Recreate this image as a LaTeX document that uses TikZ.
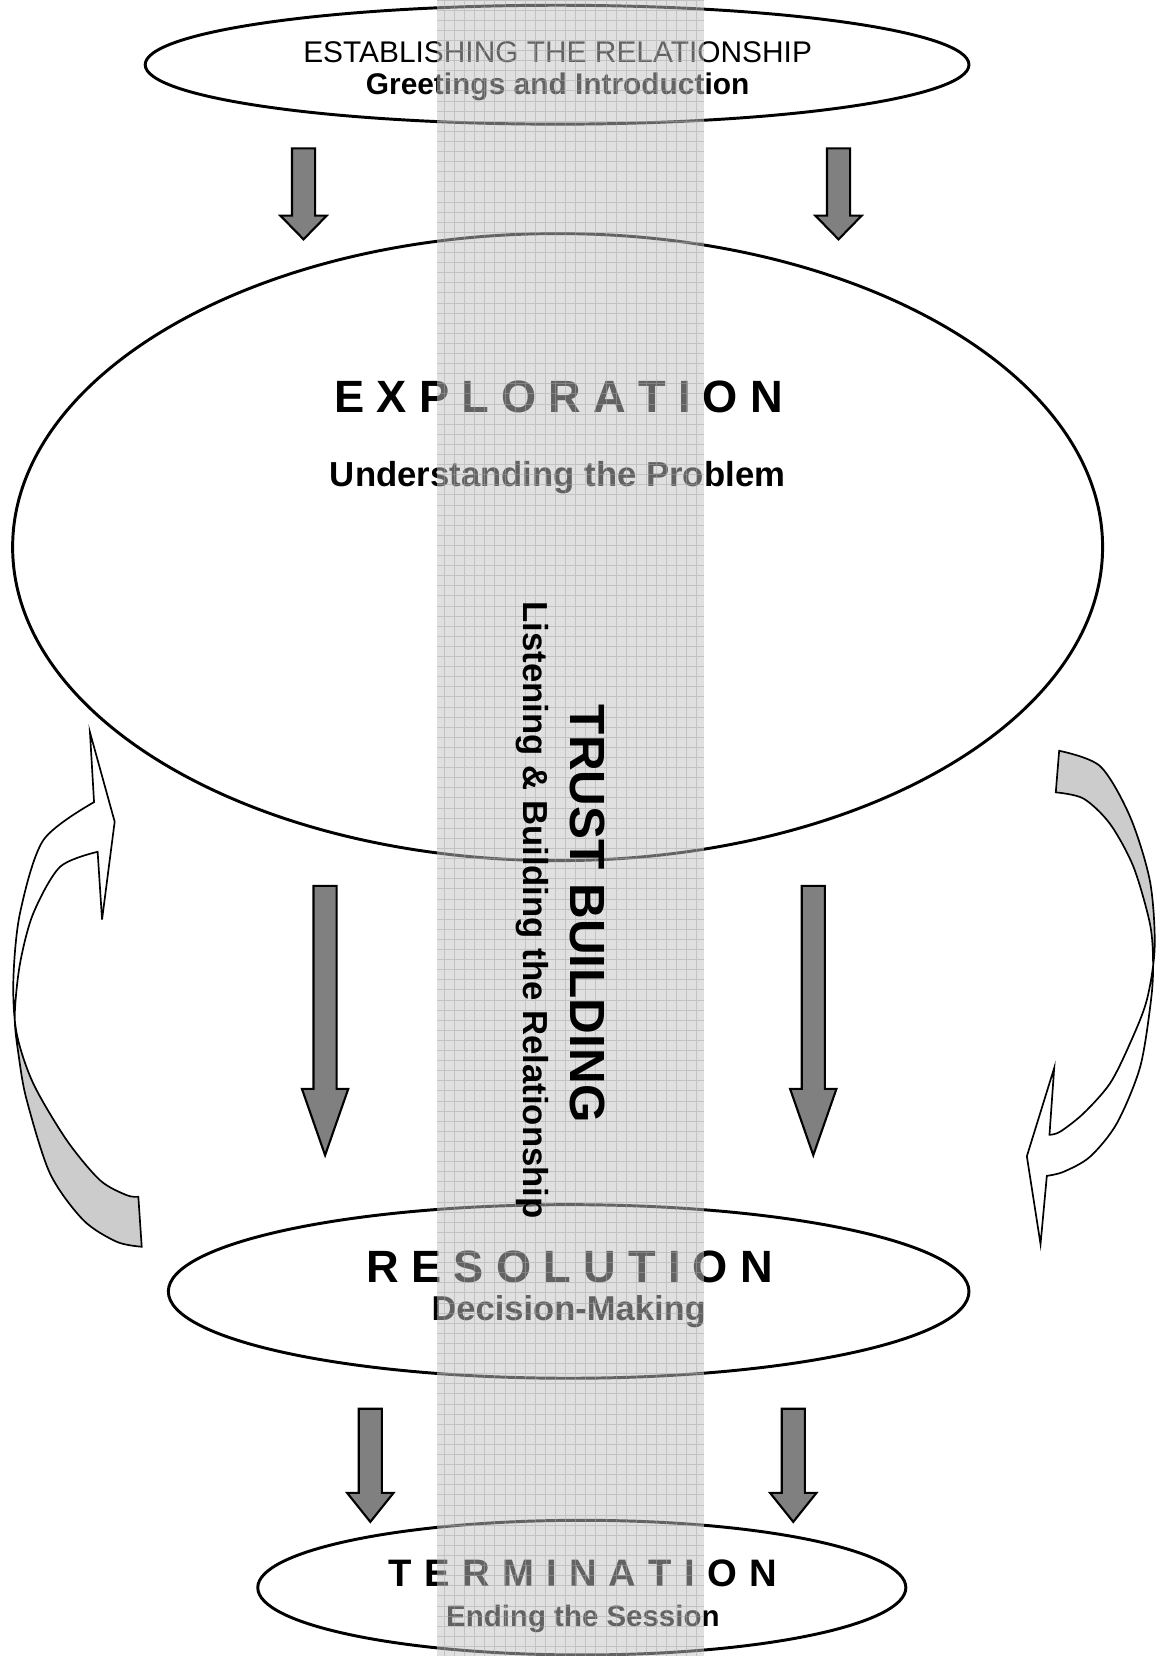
\documentclass[tikz,border=0pt]{standalone}
\usepackage{fontspec}
\setmainfont{Liberation Sans}
\usetikzlibrary{shapes.geometric}
\definecolor{bandgray}{RGB}{194,194,194}
\definecolor{bandline}{RGB}{165,165,165}
\definecolor{backface}{RGB}{204,204,204}
\newcommand{\fs}[1]{\fontsize{#1}{#1}\selectfont}
\newcommand{\lsp}{\hspace{5.8pt}}
\newcommand{\blockarrow}[4]{%
  \draw[blockarrow] (#1-11,#2) -- (#1+11,#2) -- (#1+11,#3) -- (#1+22,#3) -- (#1,#4)
    -- (#1-22,#3) -- (#1-11,#3) -- cycle;}
\tikzset{stage/.style={draw, ellipse, line width=1.4pt, inner sep=0pt},
  caption/.style={anchor=base, inner sep=0pt},
  blockarrow/.style={draw, fill=gray, line width=1pt, line join=miter},
  curvedarrow/.style={draw, line width=0.8pt, line join=miter},
  band/.style={fill=bandgray, fill opacity=0.51},
  bandgrid/.style={draw=bandline, draw opacity=0.5, line width=0.4pt, step=4.8pt},
  upright/.style={rotate=-90, anchor=base, inner sep=0pt}}

\begin{document}
\begin{tikzpicture}[x=0.5pt, y=-0.5pt]
  \useasboundingbox (0,0) rectangle (1100,1574);

  % stages
  \node[stage, minimum width=391.5pt, minimum height=56.5pt] (establish) at (529.5,61.5) {};
  \node[stage, minimum width=518pt, minimum height=298pt] (explore) at (530,520) {};
  \node[stage, minimum width=380.5pt, minimum height=82.5pt] (resolve) at (540.5,1227.5) {};
  \node[stage, minimum width=308pt, minimum height=64pt] (finish) at (553,1509) {};

  \node[caption, font=\fs{14.2pt}] (establishtitle) at (530,59.5) {ESTABLISHING THE RELATIONSHIP};
  \node[caption, font=\bfseries\fs{14.2pt}] (establishsub) at (530,90) {Greetings and Introduction};
  \node[caption, font=\bfseries\fs{21.5pt}] (exploretitle) at (531,392)
    {E\lsp X\lsp P\lsp L\lsp O\lsp R\lsp A\lsp T\lsp I\lsp O\lsp N};
  \node[caption, font=\bfseries\fs{16.5pt}] (exploresub) at (530,462) {Understanding the Problem};
  \node[caption, font=\bfseries\fs{21.5pt}] (resolvetitle) at (541.5,1219)
    {R\lsp E\lsp S\lsp O\lsp L\lsp U\lsp T\lsp I\lsp O\lsp N};
  \node[caption, font=\bfseries\fs{16.4pt}] (resolvesub) at (540.5,1255) {Decision-Making};
  \node[caption, font=\bfseries\fs{18.2pt}] (finishtitle) at (554,1508)
    {T\lsp E\lsp R\lsp M\lsp I\lsp N\lsp A\lsp T\lsp I\lsp O\lsp N};
  \node[caption, font=\bfseries\fs{14pt}] (finishsub) at (554,1546) {Ending the Session};

  % block arrows between stages
  \blockarrow{288.5}{141}{205}{227.5}
  \blockarrow{797}{141}{205}{227.5}
  \blockarrow{309}{842}{1035}{1098}
  \blockarrow{773}{842}{1035}{1098}
  \blockarrow{352}{1339}{1419}{1446.5}
  \blockarrow{754}{1339}{1419}{1446.5}

  % curved arrows
  \path[save path=\leftloop] (85.5,696) -- (109,781) -- (97,874) -- (92.8,809.6)
    -- plot[smooth] coordinates {(92.8,809.6) (57,824) (31.7,868) (19,916) (14,966) (18,1005)
       (25.4,1045.6) (47.5,1115.3) (79.2,1159.7) (111,1180.3) (134.7,1185)}
    -- (131.5,1137.5)
    -- plot[smooth] coordinates {(131.5,1137.5) (120.4,1136) (95,1121.7) (63.4,1083.7) (31.7,1030)
       (15.8,982) (12.7,931.6) (19,868) (41.2,798.5) (89.4,762.4)}
    -- cycle;
  \path[save path=\rightloop] (1006.7,713.6)
    -- plot[smooth] coordinates {(1006.7,713.6) (1045.6,728.2) (1074,776) (1093,837.5) (1097.5,900)
       (1090,950.6) (1074,991.8) (1055,1029.8) (1029.8,1058.3) (1007.6,1075.7) (997.5,1078.6)}
    -- (1002,1015) -- (976,1099) -- (989,1182.5) -- (995,1117.6)
    -- plot[smooth] coordinates {(995,1117.6) (1010.8,1113.8) (1036,1099.5) (1061.5,1067.8) (1083.7,1014)
       (1094,950.6) (1096,915) (1093,878) (1077.3,823.8) (1055,783) (1029.8,759) (1003.5,753.1)}
    -- cycle;
  \begin{scope}
    \clip (0,968) rectangle (220,1300);
    \fill[backface, use path=\leftloop];
  \end{scope}
  \begin{scope}
    \clip (900,600) rectangle (1100,910);
    \fill[backface, use path=\rightloop];
  \end{scope}
  \draw[curvedarrow, use path=\leftloop];
  \draw[curvedarrow, use path=\rightloop];

  % trust building band
  \fill[band] (415.5,0) rectangle (669,1574);
  \draw[bandgrid] (415.5,1574) grid (669,0);
  \node[upright, font=\bfseries\fs{23.5pt}] (trust) at (542,868.5) {TRUST BUILDING};
  \node[upright, font=\bfseries\fs{16.5pt}] (listen) at (497.5,865) {Listening \& Building the Relationship};
\end{tikzpicture}
\end{document}
